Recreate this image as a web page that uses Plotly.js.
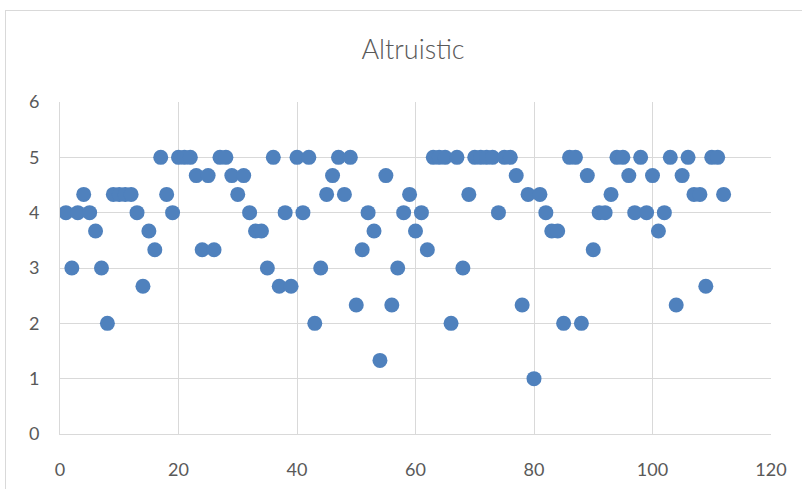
<!DOCTYPE html>
<html>
<head>
<meta charset="utf-8">
<script src="https://cdn.plot.ly/plotly-3.0.1.min.js"></script>
<style>
  html, body { margin: 0; padding: 0; background: #ffffff; overflow: hidden; }
  #frame { position: absolute; left: 5px; top: 10px; width: 900px; height: 600px;
           border: 1px solid #d9d9d9; box-sizing: border-box; }
  #chart { position: absolute; left: 0; top: 0; width: 802px; height: 489px; }
</style>
</head>
<body>
<div id="frame"></div>
<div id="chart"></div>
<script>
// Respondent index and their Altruistic score
const respondent = [
  1, 2, 3, 4, 5, 6, 7, 8, 9, 10, 11, 12, 13, 14, 15, 16, 17, 18, 19, 20,
  21, 22, 23, 24, 25, 26, 27, 28, 29, 30, 31, 32, 33, 34, 35, 36, 37, 38, 39, 40,
  41, 42, 43, 44, 45, 46, 47, 48, 49, 50, 51, 52, 53, 54, 55, 56, 57, 58, 59, 60,
  61, 62, 63, 64, 65, 66, 67, 68, 69, 70, 71, 72, 73, 74, 75, 76, 77, 78, 79, 80,
  81, 82, 83, 84, 85, 86, 87, 88, 89, 90, 91, 92, 93, 94, 95, 96, 97, 98, 99, 100,
  101, 102, 103, 104, 105, 106, 107, 108, 109, 110, 111, 112
];
const altruistic = [
  4, 3, 4, 4.33, 4, 3.67, 3, 2, 4.33, 4.33, 4.33, 4.33, 4, 2.67, 3.67, 3.33, 5, 4.33, 4, 5,
  5, 5, 4.67, 3.33, 4.67, 3.33, 5, 5, 4.67, 4.33, 4.67, 4, 3.67, 3.67, 3, 5, 2.67, 4, 2.67, 5,
  4, 5, 2, 3, 4.33, 4.67, 5, 4.33, 5, 2.33, 3.33, 4, 3.67, 1.33, 4.67, 2.33, 3, 4, 4.33, 3.67,
  4, 3.33, 5, 5, 5, 2, 5, 3, 4.33, 5, 5, 5, 5, 4, 5, 5, 4.67, 2.33, 4.33, 1,
  4.33, 4, 3.67, 3.67, 2, 5, 5, 2, 4.67, 3.33, 4, 4, 4.33, 5, 5, 4.67, 4, 5, 4, 4.67,
  3.67, 4, 5, 2.33, 4.67, 5, 4.33, 4.33, 2.67, 5, 5, 4.33
];
const xTicks = [0, 20, 40, 60, 80, 100, 120];
const yTicks = [0, 1, 2, 3, 4, 5, 6];

const labelFont = { family: 'Lato, "Open Sans", sans-serif', size: 18, color: '#595959' };

const trace = {
  type: 'scatter',
  mode: 'markers',
  x: respondent,
  y: altruistic,
  marker: { color: '#4f81bd', size: 15, line: { width: 0 } },
  hoverinfo: 'x+y'
};

const layout = {
  width: 802,
  height: 489,
  paper_bgcolor: 'rgba(0,0,0,0)',
  plot_bgcolor: 'rgba(0,0,0,0)',
  margin: { l: 60, r: 31, t: 102, b: 55 },
  showlegend: false,
  title: {
    text: 'Altruistic',
    font: { family: 'Lato, "Open Sans", sans-serif', size: 27, weight: 300, color: '#595959' },
    x: 0.515, xanchor: 'center',
    y: 0.898, yanchor: 'middle'
  },
  xaxis: {
    range: [0, 120],
    tickvals: xTicks,
    ticktext: xTicks.map(String),
    showgrid: true, gridcolor: '#d9d9d9', gridwidth: 1,
    zeroline: false,
    showline: true, linecolor: '#d9d9d9', linewidth: 1,
    ticks: '',
    ticklabelstandoff: 19,
    tickfont: labelFont,
    fixedrange: true
  },
  yaxis: {
    range: [0, 6],
    tickvals: yTicks,
    ticktext: yTicks.map(String),
    showgrid: true, gridcolor: '#d9d9d9', gridwidth: 1,
    zeroline: false,
    showline: true, linecolor: '#d9d9d9', linewidth: 1,
    ticks: '',
    ticklabelstandoff: 16,
    tickfont: labelFont,
    fixedrange: true
  }
};

Plotly.newPlot('chart', [trace], layout, { displayModeBar: false, staticPlot: true });
</script>
</body>
</html>
